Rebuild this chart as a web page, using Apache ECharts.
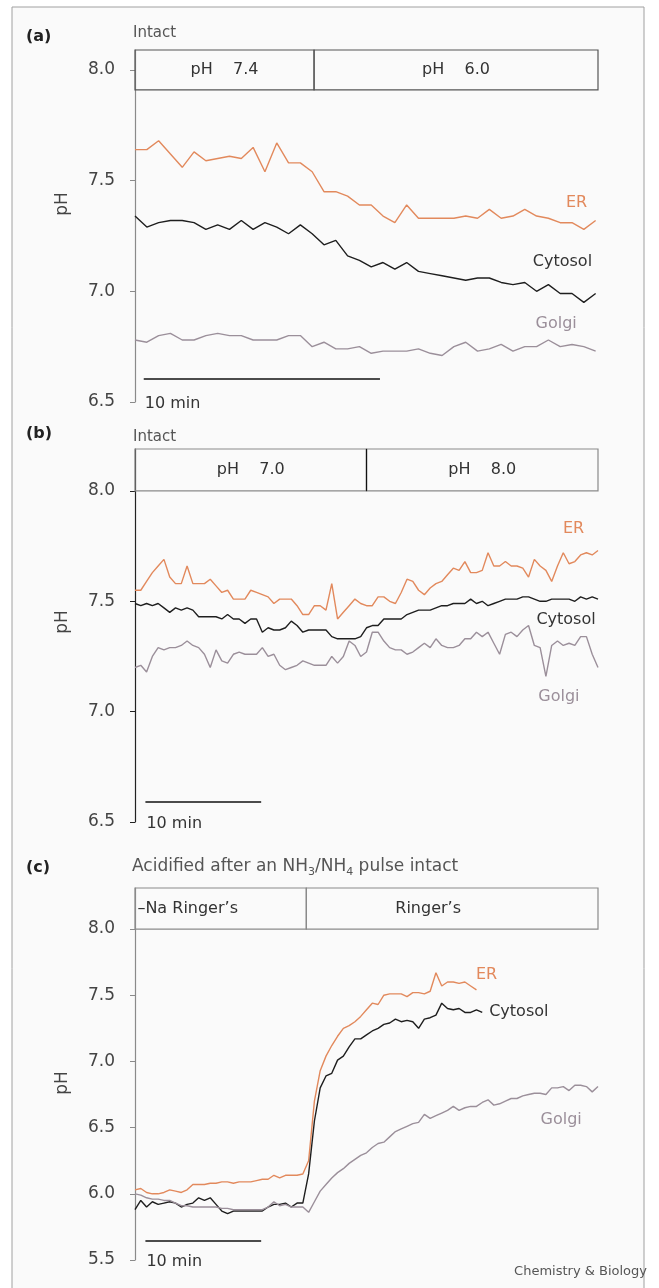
<!DOCTYPE html>
<html><head><meta charset="utf-8">
<script src="https://cdn.jsdelivr.net/npm/echarts@6/dist/echarts.min.js"></script>
<style>html,body{margin:0;padding:0;background:#fff}#c{width:659px;height:1288px}</style>
</head><body><div id="c"></div><script>
// ---- time in minutes (0.5 min sampling) ----
const T = [0,0.5,1,1.5,2,2.5,3,3.5,4,4.5,5,5.5,6,6.5,7,7.5,8,8.5,9,9.5,10,10.5,11,11.5,12,12.5,13,13.5,14,14.5,15,15.5,16,16.5,17,17.5,18,18.5,19,19.5,20,20.5,21,21.5,22,22.5,23,23.5,24,24.5,25,25.5,26,26.5,27,27.5,28,28.5,29,29.5,30,30.5,31,31.5,32,32.5,33,33.5,34,34.5,35,35.5,36,36.5,37,37.5,38,38.5,39,39.5,40];

// ---- panel (a) ----
const ER_A = [7.64,7.64,7.68,7.62,7.56,7.63,7.59,7.60,7.61,7.60,7.65,7.54,7.67,7.58,7.58,7.54,7.45,7.45,7.43,7.39,7.39,7.34,7.31,7.39,7.33,7.33,7.33,7.33,7.34,7.33,7.37,7.33,7.34,7.37,7.34,7.33,7.31,7.31,7.28,7.32];
const CYTO_A = [7.34,7.29,7.31,7.32,7.32,7.31,7.28,7.30,7.28,7.32,7.28,7.31,7.29,7.26,7.30,7.26,7.21,7.23,7.16,7.14,7.11,7.13,7.10,7.13,7.09,7.08,7.07,7.06,7.05,7.06,7.06,7.04,7.03,7.04,7.00,7.03,6.99,6.99,6.95,6.99];
const GOLGI_A = [6.78,6.77,6.80,6.81,6.78,6.78,6.80,6.81,6.80,6.80,6.78,6.78,6.78,6.80,6.80,6.75,6.77,6.74,6.74,6.75,6.72,6.73,6.73,6.73,6.74,6.72,6.71,6.75,6.77,6.73,6.74,6.76,6.73,6.75,6.75,6.78,6.75,6.76,6.75,6.73];

// ---- panel (b) ----
const ER_B = [7.55,7.55,7.59,7.63,7.66,7.69,7.61,7.58,7.58,7.66,7.58,7.58,7.58,7.60,7.57,7.54,7.55,7.51,7.51,7.51,7.55,7.54,7.53,7.52,7.49,7.51,7.51,7.51,7.48,7.44,7.44,7.48,7.48,7.46,7.58,7.42,7.45,7.48,7.51,7.49,7.48,
  7.48,7.52,7.52,7.50,7.49,7.54,7.60,7.59,7.55,7.53,7.56,7.58,7.59,7.62,7.65,7.64,7.68,7.63,7.63,7.64,7.72,7.66,7.66,7.68,7.66,7.66,7.65,7.61,7.69,7.66,7.64,7.59,7.66,7.72,7.67,7.68,7.71,7.72,7.71,7.73];
const CYTO_B = [7.49,7.48,7.49,7.48,7.49,7.47,7.45,7.47,7.46,7.47,7.46,7.43,7.43,7.43,7.43,7.42,7.44,7.42,7.42,7.40,7.42,7.42,7.36,7.38,7.37,7.37,7.38,7.41,7.39,7.36,7.37,7.37,7.37,7.37,7.34,7.33,7.33,7.33,7.33,7.34,7.38,
  7.39,7.39,7.42,7.42,7.42,7.42,7.44,7.45,7.46,7.46,7.46,7.47,7.48,7.48,7.49,7.49,7.49,7.51,7.49,7.50,7.48,7.49,7.50,7.51,7.51,7.51,7.52,7.52,7.51,7.50,7.50,7.51,7.51,7.51,7.51,7.50,7.52,7.51,7.52,7.51];
const GOLGI_B = [7.20,7.21,7.18,7.25,7.29,7.28,7.29,7.29,7.30,7.32,7.30,7.29,7.26,7.20,7.28,7.23,7.22,7.26,7.27,7.26,7.26,7.26,7.29,7.25,7.26,7.21,7.19,7.20,7.21,7.23,7.22,7.21,7.21,7.21,7.25,7.22,7.25,7.32,7.30,7.25,7.27,
  7.36,7.36,7.32,7.29,7.28,7.28,7.26,7.27,7.29,7.31,7.29,7.33,7.30,7.29,7.29,7.30,7.33,7.33,7.36,7.34,7.36,7.31,7.26,7.35,7.36,7.34,7.37,7.39,7.30,7.29,7.16,7.30,7.32,7.30,7.31,7.30,7.34,7.34,7.26,7.20];

// ---- panel (c) ----
const ER_C = [6.03,6.04,6.01,6.00,6.00,6.01,6.03,6.02,6.01,6.03,6.07,6.07,6.07,6.08,6.08,6.09,6.09,6.08,6.09,6.09,6.09,6.10,6.11,6.11,6.14,6.12,6.14,6.14,6.14,6.15,
  6.25,6.70,6.93,7.04,7.12,7.19,7.25,7.27,7.30,7.34,7.39,7.44,7.43,7.50,7.51,7.51,7.51,7.49,7.52,7.52,7.51,7.53,7.67,7.57,7.60,7.60,7.59,7.60,7.57,7.54];
const CYTO_C = [5.88,5.95,5.90,5.94,5.92,5.93,5.94,5.93,5.90,5.92,5.93,5.97,5.95,5.97,5.92,5.87,5.85,5.87,5.87,5.87,5.87,5.87,5.87,5.90,5.92,5.92,5.93,5.90,5.93,5.93,
  6.15,6.55,6.80,6.89,6.91,7.01,7.04,7.11,7.17,7.17,7.20,7.23,7.25,7.28,7.29,7.32,7.30,7.31,7.30,7.25,7.32,7.33,7.35,7.44,7.40,7.39,7.40,7.37,7.37,7.39,7.37];
const GOLGI_C = [6.00,5.99,5.97,5.96,5.96,5.95,5.95,5.93,5.91,5.91,5.90,5.90,5.90,5.90,5.90,5.89,5.89,5.88,5.88,5.88,5.88,5.88,5.88,5.90,5.94,5.91,5.92,5.90,5.90,5.90,
  5.86,5.94,6.02,6.07,6.12,6.16,6.19,6.23,6.26,6.29,6.31,6.35,6.38,6.39,6.43,6.47,6.49,6.51,6.53,6.54,6.60,6.57,6.59,6.61,6.63,6.66,6.63,6.65,6.66,6.66,6.69,6.71,6.67,6.68,6.70,6.72,
  6.72,6.74,6.75,6.76,6.76,6.75,6.80,6.80,6.81,6.78,6.82,6.82,6.81,6.77,6.81];

// ---- tick labels and annotation texts ----
const Y_TICKS_AB = [6.5, 7.0, 7.5, 8.0];
const Y_TICKS_C = [5.5, 6.0, 6.5, 7.0, 7.5, 8.0];
const BOX_A = ['pH    7.4', 'pH    6.0'];
const BOX_B = ['pH    7.0', 'pH    8.0'];
const BOX_C = ['\u2013Na Ringer\u2019s', 'Ringer\u2019s'];
const SERIES_NAMES = ['ER', 'Cytosol', 'Golgi'];
const PANEL_TAGS = ['(a)', '(b)', '(c)'];
const PANEL_TITLES = ['Intact', 'Intact'];
const SCALE_LABEL = '10 min';
const CREDIT = 'Chemistry & Biology';

const FONT = '"DejaVu Sans", "Liberation Sans", Arial, sans-serif';
const C_ER = '#e2895c', C_CYTO = '#1e1e1e', C_GOLGI = '#9b8f9a';
const pair = vals => vals.map((v, i) => [T[i], v]);

const panels = [
  { top: 50, height: 352, ymin: 6.5, ymax: 8.09, xmax: 19.6, ticks: Y_TICKS_AB, axisColor: '#8a8a8a',
    boxLow: 7.91, split: 7.58, box: BOX_A, boxColor: '#555', barY: 6.605, bar: [0.37, 10.37], barGap: 17,
    data: [ER_A, CYTO_A, GOLGI_A],
    labels: [[19.14, 7.40, 'right'], [19.35, 7.133, 'right'], [18.7, 6.853, 'right']] },
  { top: 449, height: 373, ymin: 6.5, ymax: 8.19, xmax: 40, ticks: Y_TICKS_AB, axisColor: '#222',
    boxLow: 8.0, split: 20, box: BOX_B, boxColor: '#8a8a8a', barY: 6.592, bar: [0.9, 10.9], barGap: 14, divider: true,
    data: [ER_B, CYTO_B, GOLGI_B],
    labels: [[38.8, 7.83, 'right'], [39.8, 7.415, 'right'], [38.4, 7.067, 'right']] },
  { top: 888, height: 372, ymin: 5.5, ymax: 8.31, xmax: 40, ticks: Y_TICKS_C, axisColor: '#8a8a8a',
    boxLow: 8.0, split: 14.8, box: BOX_C, boxColor: '#8a8a8a', barY: 5.644, bar: [0.9, 10.9], barGap: 13, leftAlignBox: true,
    data: [ER_C, CYTO_C, GOLGI_C],
    labels: [[29.46, 7.655, 'left'], [30.6, 7.375, 'left'], [38.6, 6.558, 'right']] }
];

const grid = [], xAxis = [], yAxis = [], series = [];
panels.forEach((p, i) => {
  grid.push({ left: 135, width: 463, top: p.top, height: p.height });
  xAxis.push({ gridIndex: i, type: 'value', min: 0, max: p.xmax, show: false });
  yAxis.push({
    gridIndex: i, type: 'value', min: p.ymin, max: p.ymax, interval: 0.5,
    axisLine: { show: true, lineStyle: { color: p.axisColor, width: 1.2 } },
    axisTick: { show: true, length: 5, lineStyle: { color: p.axisColor }, customValues: p.ticks },
    axisLabel: { show: true, customValues: p.ticks, margin: 20, fontSize: 17, color: '#444', fontFamily: FONT,
      formatter: v => p.ticks.indexOf(+v) >= 0 ? (+v).toFixed(1) : '' },
    splitLine: { show: false }
  });
  const colors = [C_ER, C_CYTO, C_GOLGI];
  const labelColors = [C_ER, '#333', C_GOLGI];
  p.data.forEach((vals, j) => {
    const lab = p.labels[j];
    const s = {
      type: 'line', name: SERIES_NAMES[j], xAxisIndex: i, yAxisIndex: i,
      data: pair(vals), symbol: 'none', showSymbol: false, silent: true, animation: false,
      lineStyle: { color: colors[j], width: 1.4 }, itemStyle: { color: colors[j] },
      markPoint: {
        symbol: 'circle', symbolSize: 0, silent: true, animation: false,
        data: [{ coord: [lab[0], lab[1]],
          label: { show: true, position: 'inside', formatter: SERIES_NAMES[j], align: lab[2], verticalAlign: 'middle',
            color: labelColors[j], fontSize: 16, fontFamily: FONT } }]
      }
    };
    if (j === 2) {
      s.markArea = {
        silent: true, animation: false,
        itemStyle: { color: 'rgba(0,0,0,0)', borderColor: p.boxColor, borderWidth: 1.2 },
        label: { show: true, color: '#333', fontSize: 16, fontFamily: FONT },
        data: [
          [{ name: p.box[0], coord: [0, p.boxLow],
             label: p.leftAlignBox ? { position: 'insideLeft', distance: 3 } : { position: 'inside' } },
           { coord: [p.split, p.ymax] }],
          [{ name: p.box[1], coord: [p.split, p.boxLow],
             label: p.leftAlignBox ? { position: 'inside', offset: [-24, 0] } : { position: 'inside' } },
           { coord: [p.xmax, p.ymax] }]
        ]
      };
      const ml = [
        [{ coord: [p.bar[0], p.barY],
           label: { show: true, formatter: SCALE_LABEL, position: 'insideStartBottom', distance: [1, p.barGap],
             color: '#333', fontSize: 16, fontFamily: FONT } },
         { coord: [p.bar[1], p.barY] }]
      ];
      if (p.divider) {
        ml.push([{ coord: [p.split, p.boxLow], label: { show: false }, lineStyle: { color: '#111', width: 1.2 } },
                 { coord: [p.split, p.ymax] }]);
      }
      s.markLine = {
        silent: true, animation: false, symbol: ['none', 'none'],
        lineStyle: { color: '#111', width: 1.5, type: 'solid' },
        data: ml
      };
    }
    series.push(s);
  });
});

const txt = (x, y, text, extra) => ({ type: 'text', x, y, silent: true,
  style: Object.assign({ text, fontFamily: FONT, fill: '#444', verticalAlign: 'middle' }, extra) });

const graphic = [
  { type: 'rect', shape: { x: 12, y: 7, width: 632, height: 1300 }, z: -10, silent: true,
    style: { fill: '#fafafa', stroke: '#a0a0a0', lineWidth: 1 } },
  txt(26, 37, PANEL_TAGS[0], { fontSize: 16, fontWeight: 'bold', fill: '#222' }),
  txt(133, 33, PANEL_TITLES[0], { fontSize: 15, fill: '#555' }),
  txt(26, 434, PANEL_TAGS[1], { fontSize: 16, fontWeight: 'bold', fill: '#222' }),
  txt(133, 437, PANEL_TITLES[1], { fontSize: 15, fill: '#555' }),
  txt(26, 868, PANEL_TAGS[2], { fontSize: 16, fontWeight: 'bold', fill: '#222' }),
  { type: 'text', x: 132, y: 856, silent: true,
    style: { text: '{m|Acidified after an NH}{s|3}{m|/NH}{s|4}{m| pulse intact}', fontFamily: FONT,
      rich: { m: { fontSize: 17, fill: '#555', lineHeight: 22, fontFamily: FONT },
              s: { fontSize: 11, fill: '#555', lineHeight: 11, verticalAlign: 'bottom', fontFamily: FONT } } } },
  txt(63, 204, 'pH', { fontSize: 17, align: 'center' }),
  txt(63, 622, 'pH', { fontSize: 17, align: 'center' }),
  txt(63, 1083, 'pH', { fontSize: 17, align: 'center' }),
  txt(647, 1272, CREDIT, { fontSize: 13, align: 'right', fill: '#555' })
];
[7, 8, 9].forEach(k => { graphic[k].rotation = Math.PI / 2; });

const chart = echarts.init(document.getElementById('c'), null, { renderer: 'canvas' });
chart.setOption({
  animation: false,
  backgroundColor: '#ffffff',
  textStyle: { fontFamily: FONT },
  grid, xAxis, yAxis, series, graphic
});
</script></body></html>
